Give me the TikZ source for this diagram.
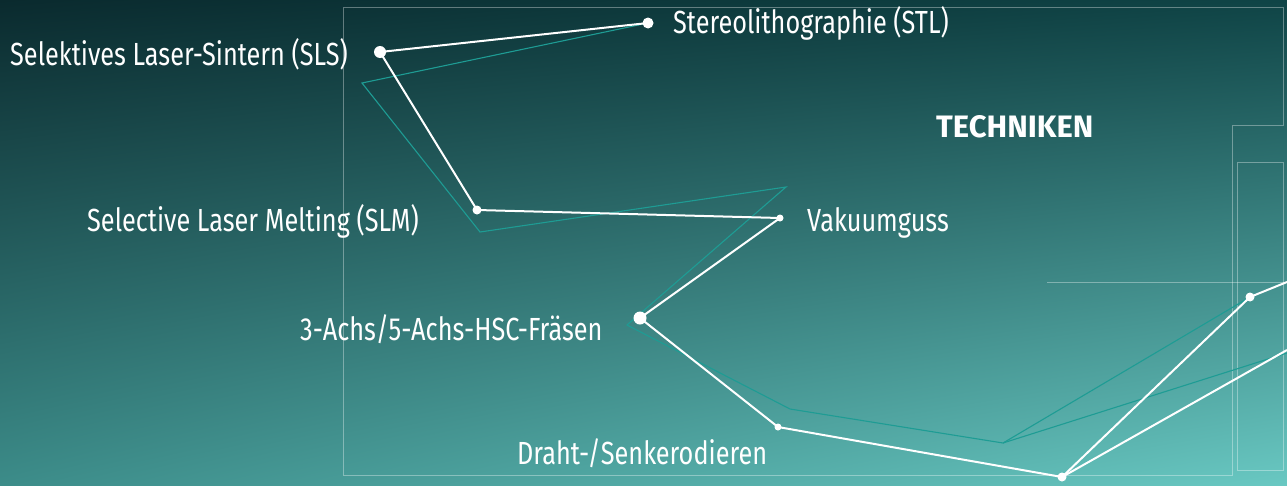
\documentclass[tikz,border=0pt]{standalone}
\usepackage{fontspec}
\usetikzlibrary{shadings}
\setmainfont{Fira Sans}[FakeStretch=0.79]
\newfontfamily\headfont{Fira Sans}
\definecolor{bgUL}{HTML}{0A2A2E}
\definecolor{bgUR}{HTML}{0F4446}
\definecolor{bgLL}{HTML}{3C8C89}
\definecolor{bgLR}{HTML}{69C8C2}
\definecolor{tealline}{HTML}{1E9C94}
\begin{document}
\begin{tikzpicture}[x=1pt,y=-1pt,
  lab/.style={anchor=base west, inner sep=0pt, text=white, font=\fontsize{32}{32}\selectfont},
  head/.style={anchor=base west, inner sep=0pt, text=white, font=\headfont\fontsize{31}{31}\selectfont\bfseries},
  dot/.style={circle, fill=white, inner sep=0pt, minimum size=#1},
  wline/.style={white, line width=2pt, line join=round},
  tline/.style={tealline, line width=1.1pt, line join=miter},
  frameline/.style={white, opacity=0.35, line width=0.8pt}]
\useasboundingbox (0,0) rectangle (1287,485);
\shade[upper left=bgUL, upper right=bgUR, lower left=bgLL, lower right=bgLR] (0,0) rectangle (1287,485);
% frames
\draw[frameline] (343,7) -- (1283,7) -- (1283,125) -- (1232,125) -- (1232,475) -- (343,475) -- cycle;
\draw[frameline] (1237,162) rectangle (1283,470);
\draw[frameline] (1047,282) -- (1287,282);
% coordinates
\coordinate (pstl) at (648,23);
\coordinate (psls) at (380,52);
\coordinate (pslm) at (477,210);
\coordinate (pvak) at (780,218);
\coordinate (phsc) at (640,318);
\coordinate (pdra) at (778,427);
\coordinate (plow) at (1062,477);
\coordinate (prgt) at (1250,297);
\coordinate (e1) at (1287,282);
\coordinate (e2) at (1287,350);
\coordinate (t2) at (362,83);
\coordinate (t3) at (480,232);
\coordinate (t4) at (786,187);
\coordinate (t5) at (627,325);
\coordinate (t6) at (790,409);
\coordinate (t7) at (1003,443);
\coordinate (t8) at (1287,353);
% teal offset path
\draw[tline] (pstl) -- (t2) -- (t3) -- (t4) -- (t5) -- (t6) -- (t7) -- (prgt);
\draw[tline] (t7) -- (t8);
% white path
\draw[wline] (pstl) -- (psls) -- (pslm) -- (pvak) -- (phsc) -- (pdra) -- (plow) -- (prgt) -- (e1);
\draw[wline] (plow) -- (e2);
% dots
\node[dot=11] (stl) at (pstl) {};
\node[dot=12] (sls) at (psls) {};
\node[dot=9] (slm) at (pslm) {};
\node[dot=7] (vak) at (pvak) {};
\node[dot=13] (hsc) at (phsc) {};
\node[dot=7] (dra) at (pdra) {};
\node[dot=9] (low) at (plow) {};
\node[dot=9] (rgt) at (prgt) {};
% labels
\node[lab] (lstl) at (673,33) {Stereolithographie (STL)};
\node[lab] (lsls) at (10,65) {Selektives Laser-Sintern (SLS)};
\node[lab] (lslm) at (87,231) {Selective Laser Melting (SLM)};
\node[lab] (lvak) at (807,231) {Vakuumguss};
\node[lab] (lhsc) at (300,340) {3-Achs/5-Achs-HSC-Fräsen};
\node[lab] (ldra) at (517,464) {Draht-/Senkerodieren};
\node[head] (ltech) at (936,137) {TECHNIKEN};
\end{tikzpicture}
\end{document}
